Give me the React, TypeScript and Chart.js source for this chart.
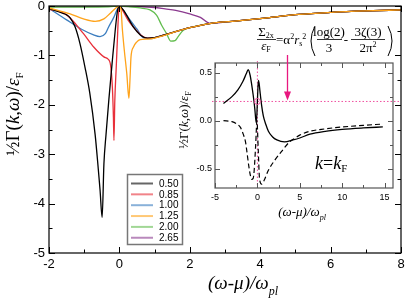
import React, { useEffect, useRef } from 'react';
import { Chart, registerables } from 'chart.js';
Chart.register(...registerables);

// ---------- main chart data ----------
const SERIES_LABELS = ['0.50', '0.85', '1.00', '1.25', '2.00', '2.65'];
const SERIES_COLORS = ['#000000', '#e8303a', '#3b7dbf', '#ffa31a', '#62bd4f', '#8b3a8f'];

const black_x = [-2, -1.8, -1.6, -1.5, -1.4, -1.26, -1.12, -0.98, -0.84, -0.69, -0.6, -0.55, -0.49, -0.44, -0.38, -0.3, -0.2, -0.12, -0.05, 0, 0.1, 0.2, 0.4, 0.6, 0.8, 1.0, 1.5, 2.0, 2.6, 3.2, 4.2, 5.1, 6.0, 7.0, 8.0];
const black_y = [-0.05, -0.1, -0.15, -0.18, -0.24, -0.42, -0.76, -1.23, -1.77, -2.6, -3.3, -3.72, -4.28, -3.2, -2.6, -1.9, -1.1, -0.5, -0.08, 0, -0.07, -0.18, -0.43, -0.59, -0.65, -0.64, -0.54, -0.44, -0.35, -0.31, -0.24, -0.17, -0.13, -0.1, -0.08];

const red_x = [-2, -1.5, -1.02, -0.73, -0.44, -0.33, -0.25, -0.2, -0.17, -0.155, -0.13, -0.09, -0.05, -0.02, 0, 0.1, 0.25, 0.44, 0.6, 0.8, 1.0, 1.5, 2.0, 2.6, 3.2, 4.2, 5.1, 6.0, 7.0, 8.0];
const red_y = [-0.06, -0.18, -0.56, -0.83, -1.03, -1.07, -1.2, -1.64, -2.25, -2.72, -1.91, -1.24, -0.56, -0.09, 0, -0.1, -0.29, -0.46, -0.58, -0.65, -0.64, -0.54, -0.44, -0.35, -0.31, -0.24, -0.17, -0.13, -0.1, -0.08];

const blue_x = [-2, -1.5, -1.02, -0.75, -0.55, -0.4, -0.31, -0.16, -0.07, 0, 0.1, 0.25, 0.49, 0.68, 0.9, 1.0, 1.5, 2.0, 2.6, 3.2, 4.2, 5.1, 6.0, 7.0, 8.0];
const blue_y = [-0.05, -0.28, -0.49, -0.58, -0.62, -0.56, -0.43, -0.23, -0.08, 0, -0.08, -0.23, -0.46, -0.64, -0.66, -0.64, -0.54, -0.44, -0.35, -0.31, -0.24, -0.17, -0.13, -0.1, -0.08];

const orange_x = [-2, -1.4, -1.02, -0.69, -0.44, -0.25, -0.1, 0, 0.05, 0.08, 0.14, 0.21, 0.27, 0.3, 0.33, 0.4, 0.49, 0.59, 0.8, 1.0, 1.3, 1.6, 2.0, 2.6, 3.2, 4.2, 5.1, 6.0, 7.0, 8.0];
const orange_y = [-0.04, -0.16, -0.26, -0.31, -0.26, -0.14, -0.04, 0, -0.09, -0.43, -0.9, -1.37, -1.87, -1.5, -1.03, -0.83, -0.73, -0.68, -0.67, -0.65, -0.59, -0.52, -0.44, -0.35, -0.31, -0.24, -0.17, -0.13, -0.1, -0.08];

const green_x = [-2, -1, -0.3, 0, 0.3, 0.59, 0.87, 1.06, 1.2, 1.34, 1.46, 1.58, 1.67, 1.8, 2.0, 2.6, 3.2, 4.2, 5.1, 6.0, 7.0, 8.0];
const green_y = [-0.02, -0.02, -0.015, 0, -0.015, -0.04, -0.08, -0.19, -0.39, -0.56, -0.71, -0.7, -0.62, -0.5, -0.44, -0.35, -0.31, -0.24, -0.17, -0.13, -0.1, -0.08];

const purple_x = [-2, -1, 0, 0.5, 1.0, 1.3, 1.6, 2.0, 2.3, 2.57, 3.2, 4.2, 5.1, 6.0, 7.0, 8.0];
const purple_y = [-0.01, -0.01, -0.005, -0.01, -0.03, -0.06, -0.09, -0.16, -0.23, -0.35, -0.31, -0.24, -0.17, -0.13, -0.1, -0.08];

const MAIN_X_TICKS = [-2, 0, 2, 4, 6, 8];
const MAIN_Y_TICKS = [-5, -4, -3, -2, -1, 0];

// ---------- inset data ----------
const inset_im_x = [-4, -3, -2.3, -1.7, -1.3, -1.08, -0.85, -0.68, -0.5, -0.4, -0.3, -0.2, -0.13, -0.05, 0, 0.06, 0.12, 0.2, 0.3, 0.5, 0.7, 1.0, 1.3, 1.8, 2.3, 3.2, 4.2, 5.0, 6.2, 8.0, 10.0, 12.5, 14.8];
const inset_im_y = [0.18, 0.25, 0.32, 0.41, 0.49, 0.53, 0.47, 0.38, 0.27, 0.2, 0.12, 0.02, -0.02, 0.08, 0.2, 0.33, 0.42, 0.39, 0.31, 0.16, 0.05, -0.04, -0.11, -0.17, -0.2, -0.22, -0.2, -0.18, -0.14, -0.11, -0.09, -0.075, -0.065];

const inset_re_x = [-4, -3, -2.5, -2, -1.67, -1.4, -1.27, -1.0, -0.8, -0.68, -0.5, -0.38, -0.2, -0.05, 0.1, 0.25, 0.5, 0.8, 1.27, 2.06, 2.85, 3.8, 4.3, 5.0, 6.2, 8.0, 10.1, 12.5, 14.8];
const inset_re_y = [0.0, -0.01, -0.03, -0.07, -0.14, -0.22, -0.3, -0.48, -0.58, -0.61, -0.6, -0.52, -0.25, 0.0, -0.3, -0.6, -0.66, -0.62, -0.52, -0.41, -0.32, -0.22, -0.19, -0.15, -0.11, -0.085, -0.065, -0.048, -0.035];

const INSET_X_TICKS = [-5, 0, 5, 10, 15];
const INSET_Y_TICKS = [-0.5, 0, 0.5];
const SIGMA_2X = 0.2;
const ARROW_X = 3.5;

const SERIF = '"Liberation Serif", "DejaVu Serif", serif';
const SANS = '"Liberation Sans", Arial, sans-serif';
const PINK = '#e8187f';

type Run = { t: string; font: string; dy?: number };
const fs = (size: number, italic = false) => `${italic ? 'italic ' : ''}${size}px ${SERIF}`;

function drawRuns(ctx: CanvasRenderingContext2D, runs: Run[], x: number, y: number, align: 'left' | 'center' = 'center') {
  let w = 0;
  for (const r of runs) { ctx.font = r.font; w += ctx.measureText(r.t).width; }
  let cx = align === 'center' ? x - w / 2 : x;
  ctx.textAlign = 'left';
  ctx.textBaseline = 'alphabetic';
  for (const r of runs) {
    ctx.font = r.font;
    ctx.fillText(r.t, cx, y + (r.dy || 0));
    cx += ctx.measureText(r.t).width;
  }
  return w;
}

function line(ctx: CanvasRenderingContext2D, x1: number, y1: number, x2: number, y2: number) {
  ctx.beginPath(); ctx.moveTo(x1, y1); ctx.lineTo(x2, y2); ctx.stroke();
}

function yTitleRuns(size: number): Run[] {
  return [
    { t: '½', font: fs(size) },
    { t: 'Γ(', font: fs(size) },
    { t: 'k', font: fs(size, true) },
    { t: ',', font: fs(size) },
    { t: 'ω', font: fs(size, true) },
    { t: ')/', font: fs(size) },
    { t: 'ε', font: fs(size, true) },
    { t: 'F', font: fs(Math.round(size * 0.6)), dy: size * 0.2 },
  ];
}
function xTitleRuns(size: number): Run[] {
  return [
    { t: '(ω-μ)/ω', font: fs(size, true) },
    { t: 'pl', font: fs(Math.round(size * 0.62), true), dy: size * 0.3 },
  ];
}

const mainDecor = {
  id: 'mainDecor',
  afterDraw(chart: any) {
    const { ctx, chartArea: a, scales } = chart;
    const xs = scales.x, ys = scales.y;
    ctx.save();
    ctx.strokeStyle = '#000';
    ctx.lineWidth = 1.2;
    ctx.strokeRect(a.left, a.top, a.right - a.left, a.bottom - a.top);
    ctx.lineWidth = 1;
    for (let v = -2; v <= 8; v += 1) {
      const px = Math.round(xs.getPixelForValue(v)) + 0.5;
      const len = Math.abs(v) % 2 === 0 ? 6 : 3.5;
      line(ctx, px, a.bottom, px, a.bottom - len);
      line(ctx, px, a.top, px, a.top + len);
    }
    for (let k = 0; k <= 10; k++) {
      const v = -5 + k * 0.5;
      const py = Math.round(ys.getPixelForValue(v)) + 0.5;
      const len = k % 2 === 0 ? 6 : 3.5;
      line(ctx, a.left, py, a.left + len, py);
      line(ctx, a.right, py, a.right - len, py);
    }
    // legend
    const lx = 127.5, ly = 174.5, lw = 55, lh = 70;
    ctx.fillStyle = '#fff';
    ctx.fillRect(lx, ly, lw, lh);
    ctx.strokeStyle = '#777';
    ctx.lineWidth = 1.5;
    ctx.strokeRect(lx, ly, lw, lh);
    chart.data.datasets.forEach((ds: any, i: number) => {
      const yy = 183.5 + i * 10.85;
      ctx.globalAlpha = 0.6;
      ctx.strokeStyle = ds.borderColor;
      ctx.lineWidth = 2;
      line(ctx, 131, yy, 153, yy);
      ctx.globalAlpha = 1;
      ctx.fillStyle = '#000';
      ctx.font = `10px ${SANS}`;
      ctx.textAlign = 'left';
      ctx.textBaseline = 'middle';
      ctx.fillText(ds.label, 159, yy + 0.5);
    });
    // axis titles
    ctx.fillStyle = '#000';
    drawRuns(ctx, xTitleRuns(19), 243, 289);
    ctx.save();
    ctx.translate(13, 114);
    ctx.rotate(-Math.PI / 2);
    drawRuns(ctx, yTitleRuns(19), 0, 6);
    ctx.restore();
    ctx.restore();
  },
};

const insetDecor = {
  id: 'insetDecor',
  beforeDatasetsDraw(chart: any) {
    const { ctx, chartArea: a, scales } = chart;
    ctx.save();
    ctx.strokeStyle = '#f050a0';
    ctx.lineWidth = 1;
    ctx.setLineDash([1.5, 2]);
    const py = scales.y.getPixelForValue(SIGMA_2X);
    line(ctx, a.left - 3, py, a.right + 8, py);
    const px = scales.x.getPixelForValue(0);
    line(ctx, px, a.top - 2, px, a.bottom);
    ctx.restore();
  },
  afterDraw(chart: any) {
    const { ctx, chartArea: a, scales } = chart;
    const xs = scales.x, ys = scales.y;
    ctx.save();
    // frame
    ctx.strokeStyle = '#555';
    ctx.lineWidth = 1.2;
    ctx.strokeRect(a.left, a.top, a.right - a.left, a.bottom - a.top);
    ctx.lineWidth = 1;
    for (let k = 0; k <= 8; k++) {
      const v = -5 + k * 2.5;
      const px = Math.round(xs.getPixelForValue(v)) + 0.5;
      const len = k % 2 === 0 ? 5 : 3;
      line(ctx, px, a.bottom, px, a.bottom - len);
      line(ctx, px, a.top, px, a.top + len);
    }
    for (let k = 0; k <= 4; k++) {
      const v = -0.5 + k * 0.25;
      const py = Math.round(ys.getPixelForValue(v)) + 0.5;
      const len = k % 2 === 0 ? 5 : 3;
      line(ctx, a.left, py, a.left + len, py);
      line(ctx, a.right, py, a.right - len, py);
    }
    // circle marker
    const cx = xs.getPixelForValue(0), cy = ys.getPixelForValue(SIGMA_2X);
    ctx.strokeStyle = '#f050a0';
    ctx.beginPath(); ctx.arc(cx, cy, 3, 0, Math.PI * 2); ctx.stroke();
    // arrow
    const ax = Math.round(xs.getPixelForValue(ARROW_X)) + 0.5;
    const tip = cy - 1;
    ctx.strokeStyle = PINK; ctx.fillStyle = PINK; ctx.lineWidth = 1.3;
    line(ctx, ax, 55, ax, tip - 6);
    ctx.beginPath(); ctx.moveTo(ax - 3.5, tip - 9); ctx.lineTo(ax + 3.5, tip - 9); ctx.lineTo(ax, tip); ctx.closePath(); ctx.fill();
    // formula
    ctx.fillStyle = '#000'; ctx.strokeStyle = '#000'; ctx.lineWidth = 0.8;
    drawRuns(ctx, [{ t: 'Σ', font: fs(13) }, { t: '2x', font: fs(8), dy: 2 }], 266, 36);
    line(ctx, 257, 39.5, 276, 39.5);
    drawRuns(ctx, [{ t: 'ε', font: fs(13, true) }, { t: 'F', font: fs(8), dy: 2 }], 266, 50);
    drawRuns(ctx, [{ t: '=α', font: fs(13) }, { t: '2', font: fs(8), dy: -5 }, { t: 'r', font: fs(13, true) }, { t: 's', font: fs(8), dy: 2 }, { t: '2', font: fs(8), dy: -5 }], 276, 44, 'left');
    ctx.lineWidth = 1;
    ctx.beginPath(); ctx.moveTo(315, 26); ctx.quadraticCurveTo(307, 41, 315, 56); ctx.stroke();
    drawRuns(ctx, [{ t: 'log(2)', font: fs(13) }], 329, 36);
    ctx.lineWidth = 0.8;
    line(ctx, 317, 39.5, 342, 39.5);
    drawRuns(ctx, [{ t: '3', font: fs(13) }], 329, 52);
    drawRuns(ctx, [{ t: '-', font: fs(13) }], 346, 44);
    drawRuns(ctx, [{ t: '3ζ(3)', font: fs(13) }], 368, 36);
    line(ctx, 351, 39.5, 385, 39.5);
    drawRuns(ctx, [{ t: '2π', font: fs(13) }, { t: '2', font: fs(8), dy: -5 }], 368, 52);
    ctx.lineWidth = 1;
    ctx.beginPath(); ctx.moveTo(388, 26); ctx.quadraticCurveTo(396, 41, 388, 56); ctx.stroke();
    // k = kF
    drawRuns(ctx, [{ t: 'k', font: fs(18, true) }, { t: '=', font: fs(18) }, { t: 'k', font: fs(18, true) }, { t: 'F', font: fs(11), dy: 3 }], 315, 169, 'left');
    // inset titles
    drawRuns(ctx, xTitleRuns(13), 302, 216);
    ctx.save();
    ctx.translate(184, 120);
    ctx.rotate(-Math.PI / 2);
    drawRuns(ctx, yTitleRuns(13), 0, 4);
    ctx.restore();
    ctx.restore();
  },
};

function pts(xs: number[], ys: number[]) {
  return xs.map((x, i) => ({ x, y: ys[i] }));
}

export default function App() {
  const mainRef = useRef<HTMLCanvasElement>(null);
  const insetRef = useRef<HTMLCanvasElement>(null);

  useEffect(() => {
    const seriesX = [black_x, red_x, blue_x, orange_x, green_x, purple_x];
    const seriesY = [black_y, red_y, blue_y, orange_y, green_y, purple_y];
    const main = new Chart(mainRef.current!, {
      type: 'line',
      data: {
        datasets: SERIES_LABELS.map((label, i) => ({
          label,
          data: pts(seriesX[i], seriesY[i]),
          borderColor: SERIES_COLORS[i],
          backgroundColor: SERIES_COLORS[i],
          borderWidth: 1.3,
          pointRadius: 0,
          cubicInterpolationMode: 'monotone' as const,
          fill: false,
          order: i === 3 ? -1 : i,
        })),
      },
      options: {
        responsive: false,
        animation: false,
        events: [],
        layout: { padding: { top: 6, right: 15, bottom: 0, left: 0 } },
        plugins: { legend: { display: false }, tooltip: { enabled: false } },
        scales: {
          x: {
            type: 'linear', min: -2, max: 8,
            grid: { display: false, drawTicks: false },
            border: { display: false },
            ticks: { color: '#000', font: { family: SANS, size: 13 }, padding: 4, autoSkip: false, maxRotation: 0 },
            afterBuildTicks: (s: any) => { s.ticks = MAIN_X_TICKS.map((v) => ({ value: v })); },
            afterFit: (s: any) => { s.height = 45; s.paddingLeft = 0; s.paddingRight = 0; },
          },
          y: {
            type: 'linear', min: -5, max: 0,
            grid: { display: false, drawTicks: false },
            border: { display: false },
            ticks: { color: '#000', font: { family: SANS, size: 13 }, padding: 4, autoSkip: false },
            afterBuildTicks: (s: any) => { s.ticks = MAIN_Y_TICKS.map((v) => ({ value: v })); },
            afterFit: (s: any) => { s.width = 49; s.paddingTop = 0; s.paddingBottom = 0; },
          },
        },
      } as any,
      plugins: [mainDecor],
    });

    const inset = new Chart(insetRef.current!, {
      type: 'line',
      data: {
        datasets: [
          { label: 'Im', data: pts(inset_im_x, inset_im_y), borderColor: '#000', borderWidth: 1.3, pointRadius: 0, cubicInterpolationMode: 'monotone' as const, fill: false },
          { label: 'Re', data: pts(inset_re_x, inset_re_y), borderColor: '#000', borderWidth: 1.2, borderDash: [5, 3], pointRadius: 0, cubicInterpolationMode: 'monotone' as const, fill: false },
        ],
      },
      options: {
        responsive: false,
        animation: false,
        events: [],
        layout: { padding: { top: 63, right: 23, bottom: 88, left: 193 } },
        plugins: { legend: { display: false }, tooltip: { enabled: false } },
        scales: {
          x: {
            type: 'linear', min: -5, max: 16,
            grid: { display: false, drawTicks: false },
            border: { display: false },
            ticks: { color: '#000', font: { family: SANS, size: 9 }, padding: 4, autoSkip: false, maxRotation: 0 },
            afterBuildTicks: (s: any) => { s.ticks = INSET_X_TICKS.map((v) => ({ value: v })); },
            afterFit: (s: any) => { s.height = 22; s.paddingLeft = 0; s.paddingRight = 0; },
          },
          y: {
            type: 'linear', min: -0.7, max: 0.6,
            grid: { display: false, drawTicks: false },
            border: { display: false },
            ticks: { color: '#000', font: { family: SANS, size: 9 }, padding: 3, autoSkip: false, callback: (v: any) => Number(v).toFixed(1) },
            afterBuildTicks: (s: any) => { s.ticks = INSET_Y_TICKS.map((v) => ({ value: v })); },
            afterFit: (s: any) => { s.width = 22; s.paddingTop = 0; s.paddingBottom = 0; },
          },
        },
      } as any,
      plugins: [insetDecor],
    });

    return () => { main.destroy(); inset.destroy(); };
  }, []);

  return (
    <div style={{ position: 'fixed', left: 0, top: 0, width: 416, height: 298, background: '#fff' }}>
      <canvas ref={mainRef} width={416} height={298} style={{ position: 'absolute', left: 0, top: 0 }} />
      <canvas ref={insetRef} width={416} height={298} style={{ position: 'absolute', left: 0, top: 0 }} />
    </div>
  );
}
